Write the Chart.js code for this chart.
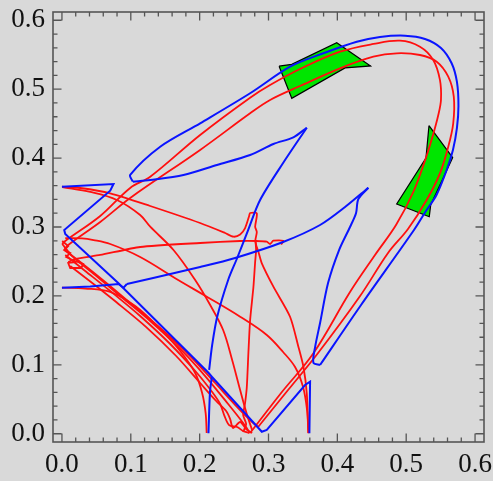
<!DOCTYPE html>
<html>
<head>
<meta charset="utf-8">
<script src="https://cdn.jsdelivr.net/npm/chart.js@4.4.0/dist/chart.umd.min.js"></script>
<style>
html, body { margin: 0; padding: 0; background: #d9d9d9; }
canvas { display: block; }
</style>
</head>
<body>
<canvas id="chart" width="493" height="481"></canvas>
<script>
// axis ticks
const tickValues = [0, 0.1, 0.2, 0.3, 0.4, 0.5, 0.6];
const minorTicks = [];
for (let i = 0; i <= 30; i++) minorTicks.push(i / 50);

// blue trajectories (split at the sharp corners)
const blueLeft = [[0.000,0.3585],[0.0749,0.3624],[0.0701,0.3527],[0.0033,0.2956],[0.0048,0.2898],[0.0821,0.2183],
  [0.2128,0.0885],[0.2177,0.0827],[0.2903,0.0029],[0.2975,0.0054],[0.3531,0.0707],[0.3604,0.0755],[0.3594,0.0006]];
const blueStem = [[0.2128,0.0006],[0.2150,0.0600],[0.2177,0.0827]];
const blueBase = [[0.000,0.2119],[0.0411,0.2136],[0.0821,0.2173],[0.0894,0.2119],[0.0943,0.2173]];
const blueRise = [[0.0943,0.2173],[0.1325,0.2260],[0.2007,0.2419],[0.2515,0.2550],[0.3212,0.2782],[0.3749,0.3029],
  [0.4112,0.3290],[0.4450,0.3570]];
const blueDrop = [[0.4450,0.3570],[0.4305,0.3406],[0.4271,0.3199],[0.4184,0.3000],[0.4025,0.2666],[0.3865,0.2187],
  [0.3749,0.1607],[0.3677,0.1258],[0.3652,0.1030],[0.3749,0.0997]];
const blueOuter = [[0.3749,0.0997],[0.4344,0.1868],[0.5113,0.2956],[0.5287,0.3232],[0.5440,0.3464],[0.5588,0.3827],
  [0.5679,0.4118],[0.5737,0.4437],[0.5759,0.4756],[0.5737,0.5105],[0.5660,0.5376],[0.5505,0.5598],[0.5273,0.5729],
  [0.4983,0.5777],[0.4620,0.5758],[0.4282,0.5689],[0.3797,0.5521],[0.3313,0.5327],[0.2733,0.4941],[0.2007,0.4505],
  [0.1427,0.4165],[0.0991,0.3755],[0.1030,0.3657]];
const blueInner = [[0.1030,0.3657],[0.1282,0.3682],[0.1765,0.3755],[0.2250,0.3900],[0.2733,0.4045],[0.3071,0.4205],
  [0.3361,0.4302],[0.3556,0.4441]];
const blueFall = [[0.3556,0.4441],[0.3212,0.3929],[0.2878,0.3392],[0.2704,0.2956],[0.2545,0.2550],[0.2414,0.2231],
  [0.2254,0.1694],[0.2182,0.1288],[0.2138,0.0925]];

// red trajectories
const redFan1 = [[0.0004,0.2753],[0.0149,0.2579],[0.0483,0.2303],[0.0846,0.1998],[0.1282,0.1636],[0.1717,0.1230],
  [0.2080,0.0837],[0.2414,0.0431],[0.2632,0.0155],[0.2733,0.0010]];
const redLoop1 = [[0.2733,0.0010],[0.3183,0.0591],[0.3652,0.1167],[0.4184,0.2057],
  [0.4547,0.2594],[0.4852,0.3029],[0.5103,0.3508],[0.5287,0.4006],[0.5389,0.4335],[0.5466,0.4626],[0.5505,0.4843],
  [0.5490,0.5134],[0.5393,0.5424],[0.5200,0.5617],[0.4910,0.5704],[0.4523,0.5656],[0.4039,0.5544],[0.3458,0.5293],
  [0.3023,0.5061],[0.2733,0.4877],[0.2007,0.4336],[0.1282,0.3730],[0.0991,0.3567],[0.0556,0.3160],[0.0048,0.2797],
  [0.0004,0.2753]];
const redFan2 = [[0.0033,0.2666],[0.0266,0.2492],[0.0628,0.2202],[0.0991,0.1897],[0.1427,0.1534],[0.1862,0.1128],
  [0.2225,0.0736],[0.2559,0.0373],[0.2762,0.0170],[0.2849,0.0097]];
const redLoop2 = [[0.2849,0.0097],[0.3284,0.0634],[0.3720,0.1171],[0.4330,0.1998],
  [0.4736,0.2623],[0.5026,0.2971],[0.5297,0.3392],[0.5490,0.3779],[0.5611,0.4165],[0.5683,0.4505],[0.5691,0.4891],
  [0.5611,0.5181],[0.5443,0.5399],[0.5200,0.5496],[0.4862,0.5521],[0.4523,0.5472],[0.4039,0.5303],[0.3458,0.5046],
  [0.3023,0.4843],[0.2733,0.4650],[0.2007,0.4118],[0.0991,0.3421],[0.0556,0.3073],[0.0091,0.2739],[0.0033,0.2666]];
const redFan3 = [[0.0048,0.2594],[0.0338,0.2362],[0.0701,0.2071],[0.1136,0.1708],[0.1572,0.1302],[0.1949,0.0896],
  [0.2182,0.0605],[0.2298,0.0431],[0.2356,0.0271],[0.2428,0.0126],[0.2545,0.0097],[0.2632,0.0039],[0.2719,0.0010]];
const redFan4 = [[0.0120,0.2434],[0.0440,0.2187],[0.0788,0.1911],[0.1224,0.1548],[0.1659,0.1128],[0.2007,0.0736],
  [0.2240,0.0475],[0.2385,0.0329],[0.2443,0.0213],[0.2486,0.0083],[0.2588,0.0170],[0.2675,0.0068],[0.2762,0.0010]];
const redLow = [[0.000,0.2119],[0.0338,0.2107],[0.0701,0.2057],[0.1064,0.1853],[0.1427,0.1520],[0.1717,0.1200],
  [0.1935,0.0881],[0.2036,0.0591],[0.2087,0.0300],[0.2102,0.0010]];
const redKnot = [[0.0004,0.2797],[0.0091,0.2724],[0.0033,0.2666],[0.0120,0.2623],[0.0062,0.2565],[0.0149,0.2521],
  [0.0309,0.2463],[0.0280,0.2405],[0.0120,0.2405],[0.0091,0.2478],[0.0208,0.2492]];
const redMid = [[0.0091,0.2492],[0.0193,0.2536],[0.0556,0.2594],[0.1136,0.2710],[0.2007,0.2768],[0.2588,0.2797],
  [0.2820,0.2797],[0.2975,0.2787],[0.3023,0.2753],[0.3071,0.2801],[0.3216,0.2801],[0.3183,0.2746]];
const redArcX = [[0.0048,0.2840],[0.0290,0.2836],[0.0459,0.2811],[0.0701,0.2753],[0.1136,0.2565],[0.1688,0.2231],
  [0.2104,0.1988],[0.2588,0.1698],[0.2975,0.1433],[0.3212,0.1186],[0.3386,0.0968],[0.3502,0.0678],[0.3560,0.0344],
  [0.3579,0.0010]];
const redArcY = [[0.0004,0.3580],[0.0411,0.3508],[0.0798,0.3392],[0.1136,0.3174],[0.1282,0.3004],[0.1620,0.2666],
  [0.1935,0.2231],[0.2153,0.1868],[0.2341,0.1505],[0.2472,0.1070],[0.2588,0.0634],[0.2689,0.0271],[0.2762,0.0054]];
const redHook = [[0.000,0.3585],[0.0266,0.3566],[0.0701,0.3489],[0.1282,0.3305],[0.2007,0.3058],[0.2370,0.2913],
  [0.2491,0.2859],[0.2588,0.2891],[0.2660,0.2985],[0.2719,0.3160],[0.2733,0.3203],[0.2830,0.3199],[0.2806,0.3004],
  [0.2830,0.2927],[0.2810,0.2811],[0.2820,0.2739],[0.2853,0.2642],[0.2903,0.2473],[0.3071,0.2134],[0.3313,0.1698],
  [0.3434,0.1263],[0.3507,0.0972],[0.3556,0.0586],[0.3579,0.0006]];
const redVert = [[0.2810,0.2811],[0.2820,0.2666],[0.2806,0.2492],[0.2781,0.2129],[0.2733,0.1650],[0.2708,0.1171],
  [0.2685,0.0678],[0.2660,0.0446],[0.2632,0.0271],[0.2675,0.0141],[0.2632,0.0025]];

// green regions
const greenTop = [[0.3154,0.5334],[0.3338,0.5361],[0.3991,0.5675],[0.4482,0.5337],[0.4112,0.5308],[0.3338,0.4868],[0.3154,0.5334]];
const greenRight = [[0.5331,0.4471],[0.5675,0.4006],[0.5356,0.3319],[0.5335,0.3149],[0.4862,0.3334],[0.5287,0.4001],[0.5331,0.4471]];

const pts = arr => arr.map(p => ({ x: p[0], y: p[1] }));

function curve(arr, color, width, smooth) {
    return { data: pts(arr), borderColor: color, borderWidth: width, fill: false, tension: smooth };
}
function region(arr) {
    return { data: pts(arr), borderColor: '#000', borderWidth: 1.2, backgroundColor: '#00e600', fill: 'shape', tension: 0 };
}

const BLUE = '#0a14ff', RED = '#ff0f0f';

const datasets = [
    curve(blueLeft, BLUE, 2, 0), curve(blueStem, BLUE, 2, 0.3), curve(blueBase, BLUE, 2, 0),
    curve(blueRise, BLUE, 2, 0.3), curve(blueDrop, BLUE, 2, 0.3), curve(blueOuter, BLUE, 2, 0.3),
    curve(blueInner, BLUE, 2, 0.3), curve(blueFall, BLUE, 2, 0.3),
    curve(redFan1, RED, 1.8, 0.3), curve(redLoop1, RED, 1.8, 0.35),
    curve(redFan2, RED, 1.8, 0.3), curve(redLoop2, RED, 1.8, 0.35),
    curve(redFan3, RED, 1.8, 0.3), curve(redFan4, RED, 1.8, 0.3), curve(redLow, RED, 1.8, 0.35),
    curve(redKnot, RED, 1.8, 0), curve(redMid, RED, 1.8, 0.2), curve(redArcX, RED, 1.8, 0.35),
    curve(redArcY, RED, 1.8, 0.35), curve(redHook, RED, 1.8, 0.25), curve(redVert, RED, 1.8, 0.2),
    region(greenTop), region(greenRight)
];

// frame and inward ticks on all four sides
const framePlugin = {
    id: 'frame',
    afterDraw(chart) {
        const { ctx, chartArea: a, scales: { x, y } } = chart;
        ctx.save();
        ctx.strokeStyle = '#555';
        ctx.lineWidth = 1.6;
        ctx.strokeRect(a.left, a.top, a.right - a.left, a.bottom - a.top);
        ctx.lineWidth = 1.3;
        ctx.beginPath();
        minorTicks.forEach((v, i) => {
            const len = i % 5 === 0 ? 8.5 : 4.5;
            const px = x.getPixelForValue(v), py = y.getPixelForValue(v);
            ctx.moveTo(px, a.bottom); ctx.lineTo(px, a.bottom - len);
            ctx.moveTo(px, a.top); ctx.lineTo(px, a.top + len);
            ctx.moveTo(a.left, py); ctx.lineTo(a.left + len, py);
            ctx.moveTo(a.right, py); ctx.lineTo(a.right - len, py);
        });
        ctx.stroke();
        ctx.restore();
    }
};

const tickFont = { family: "'Liberation Serif', 'Times New Roman', serif", size: 27 };

new Chart(document.getElementById('chart'), {
    type: 'line',
    data: { datasets },
    options: {
        responsive: false,
        animation: false,
        devicePixelRatio: 1,
        elements: { point: { radius: 0 } },
        layout: { padding: { top: 12, right: 9, left: 0, bottom: 0 } },
        plugins: { legend: { display: false }, tooltip: { enabled: false } },
        scales: {
            x: {
                type: 'linear', min: -0.013, max: 0.613,
                grid: { display: false, drawTicks: false }, border: { display: false },
                afterBuildTicks: s => { s.ticks = tickValues.map(v => ({ value: v })); },
                afterFit: s => { s.height = 39; s.paddingLeft = 0; s.paddingRight = 0; },
                ticks: { font: tickFont, color: '#111', padding: 7, maxRotation: 0,
                         callback: v => v.toFixed(1) }
            },
            y: {
                type: 'linear', min: -0.012, max: 0.612,
                grid: { display: false, drawTicks: false }, border: { display: false },
                afterBuildTicks: s => { s.ticks = tickValues.map(v => ({ value: v })); },
                afterFit: s => { s.width = 53; s.paddingTop = 0; s.paddingBottom = 0; },
                ticks: { font: tickFont, color: '#111', padding: 8,
                         callback: v => v.toFixed(1) }
            }
        }
    },
    plugins: [framePlugin]
});
</script>
</body>
</html>
